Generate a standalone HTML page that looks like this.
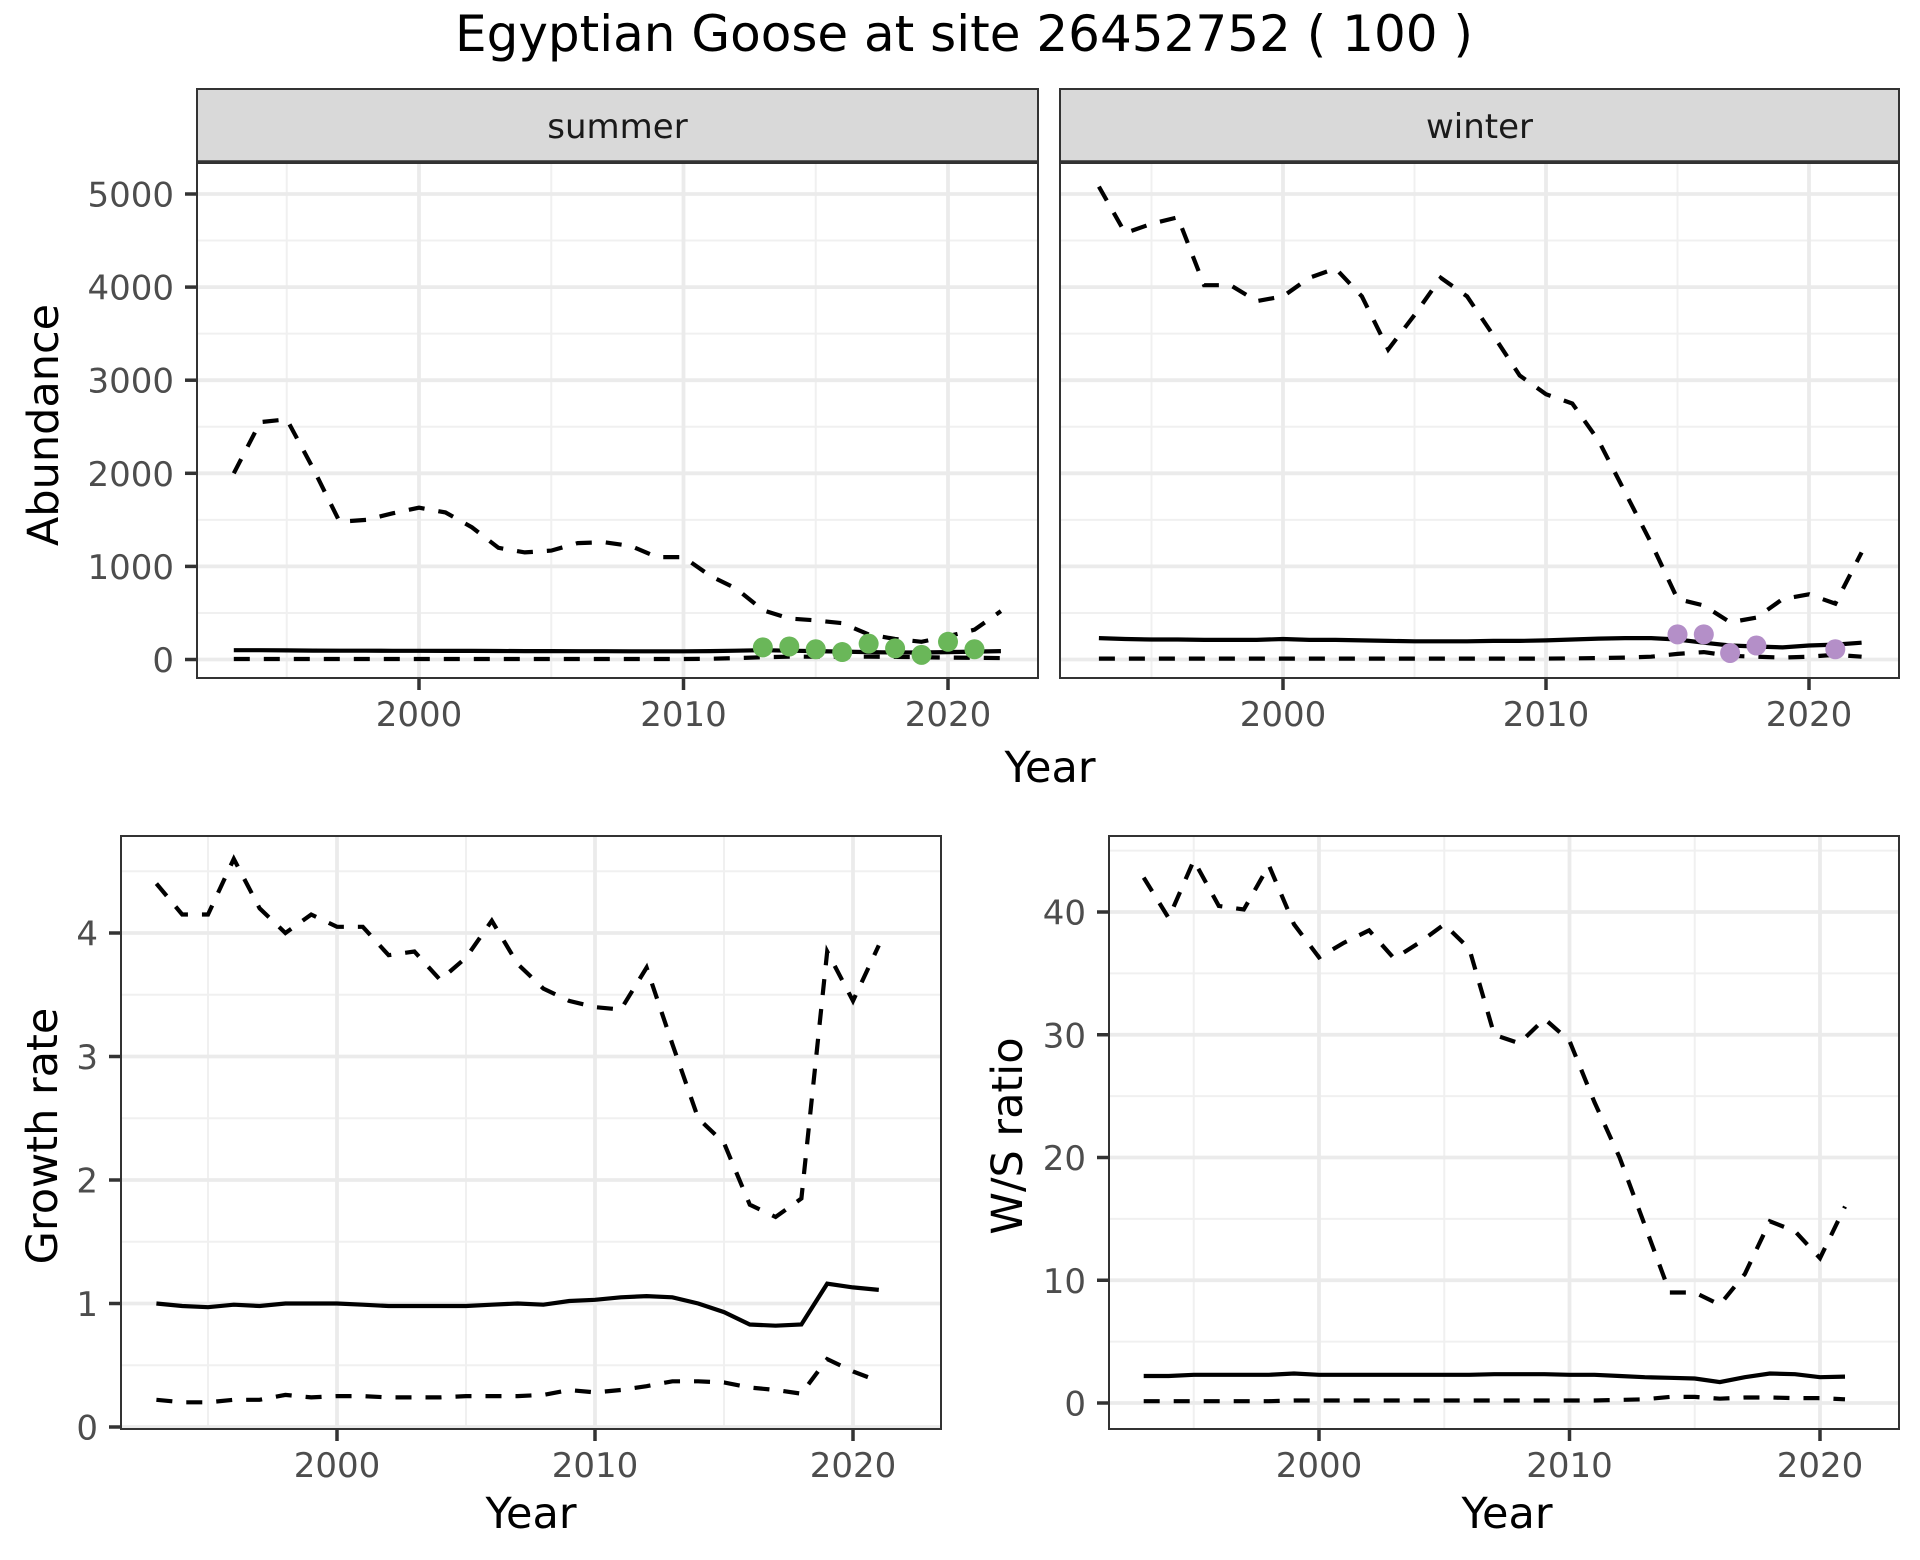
<!DOCTYPE html>
<html><head><meta charset="utf-8"><style>
html,body{margin:0;padding:0;background:#fff;}
svg{display:block;font-family:"DejaVu Sans","Liberation Sans",sans-serif;}
</style></head><body>
<svg id="chart" width="1920" height="1560" viewBox="0 0 1920 1560" xmlns="http://www.w3.org/2000/svg">
<rect width="1920" height="1560" fill="#fff"/>
<text x="964" y="51" font-size="50" text-anchor="middle" fill="#000">Egyptian Goose at site 26452752 ( 100 )</text>
</svg>
<script>
const yearsTop = [1993,1994,1995,1996,1997,1998,1999,2000,2001,2002,2003,2004,2005,2006,2007,2008,2009,2010,2011,2012,2013,2014,2015,2016,2017,2018,2019,2020,2021,2022];
const summerUpper = [2000,2550,2580,2050,1480,1500,1570,1630,1580,1420,1200,1150,1170,1250,1260,1220,1100,1100,900,760,530,440,420,390,270,220,190,250,320,520];
const summerMean = [100,100,98,96,95,94,93,93,92,92,91,90,90,89,89,88,88,88,90,95,100,95,90,85,80,75,75,80,85,90];
const summerLower = [5,5,5,5,5,5,5,5,5,5,5,5,5,5,5,5,5,5,8,15,25,30,30,30,30,28,25,20,18,15];
const summerPtYears = [2013,2014,2015,2016,2017,2018,2019,2020,2021];
const summerPts = [130,140,110,80,170,120,50,190,110];
const winterUpper = [5080,4580,4680,4750,4020,4020,3850,3900,4100,4200,3900,3330,3700,4100,3900,3480,3050,2850,2750,2350,1800,1250,650,580,400,450,650,700,600,1150];
const winterMean = [230,220,215,215,210,210,210,220,210,210,205,200,195,195,195,200,200,205,215,225,230,230,215,180,150,140,130,150,160,180];
const winterLower = [10,10,10,10,10,10,10,10,10,10,10,10,10,10,10,10,10,10,12,15,20,30,60,80,40,30,20,30,50,30];
const winterPtYears = [2015,2016,2017,2018,2021];
const winterPts = [270,270,70,150,110];
const yearsBot = [1993,1994,1995,1996,1997,1998,1999,2000,2001,2002,2003,2004,2005,2006,2007,2008,2009,2010,2011,2012,2013,2014,2015,2016,2017,2018,2019,2020,2021];
const growthUpper = [4.4,4.15,4.15,4.6,4.2,4.0,4.15,4.05,4.05,3.82,3.85,3.62,3.8,4.1,3.75,3.55,3.45,3.4,3.38,3.72,3.1,2.5,2.3,1.8,1.7,1.85,3.85,3.45,3.9];
const growthMean = [1.0,0.98,0.97,0.99,0.98,1.0,1.0,1.0,0.99,0.98,0.98,0.98,0.98,0.99,1.0,0.99,1.02,1.03,1.05,1.06,1.05,1.0,0.93,0.83,0.82,0.83,1.16,1.13,1.11];
const growthLower = [0.22,0.2,0.2,0.22,0.22,0.26,0.24,0.25,0.25,0.24,0.24,0.24,0.25,0.25,0.25,0.26,0.3,0.28,0.3,0.33,0.37,0.37,0.36,0.32,0.3,0.27,0.55,0.45,0.37];
const wsUpper = [42.8,39.5,44.2,40.5,40.2,43.8,39,36.3,37.5,38.5,36.2,37.5,39,37,30,29.3,31.3,29.5,24.5,20,14.5,9,9,8,10.5,14.8,14,11.8,16];
const wsMean = [2.2,2.2,2.3,2.3,2.3,2.3,2.4,2.3,2.3,2.3,2.3,2.3,2.3,2.3,2.35,2.35,2.35,2.3,2.3,2.2,2.1,2.05,2.0,1.7,2.1,2.4,2.35,2.1,2.15];
const wsLower = [0.15,0.15,0.15,0.15,0.15,0.15,0.2,0.2,0.2,0.2,0.2,0.2,0.2,0.2,0.2,0.2,0.2,0.2,0.2,0.25,0.3,0.5,0.5,0.35,0.45,0.45,0.4,0.4,0.3];
const xTicks = [2000,2010,2020];
const abundTicks = [0,1000,2000,3000,4000,5000];
const growthTicks = [0,1,2,3,4];
const wsTicks = [0,10,20,30,40];

const svg = document.getElementById('chart');
const NS = 'http://www.w3.org/2000/svg';
function mk(tag, attrs, parent){
  const e = document.createElementNS(NS, tag);
  for (const k in attrs) e.setAttribute(k, attrs[k]);
  (parent||svg).appendChild(e);
  return e;
}
function lin(d0,d1,r0,r1){ return v => r0 + (v-d0)*(r1-r0)/(d1-d0); }

function panel(o){
  const g = mk('g', {});
  
  
  mk('rect', {x:o.x0,y:o.y0,width:o.x1-o.x0,height:o.y1-o.y0,fill:'#fff'}, g);
  o.xMinor.forEach(v=>{ const X=o.sx(v); mk('line',{x1:X,x2:X,y1:o.y0,y2:o.y1,stroke:'#f0f0f0','stroke-width':2},g); });
  o.yMinor.forEach(v=>{ const Y=o.sy(v); if (Y>o.y0) mk('line',{x1:o.x0,x2:o.x1,y1:Y,y2:Y,stroke:'#f0f0f0','stroke-width':2},g); });
  xTicks.forEach(v=>{ const X=o.sx(v); mk('line',{x1:X,x2:X,y1:o.y0,y2:o.y1,stroke:'#ebebeb','stroke-width':3.8},g); });
  o.yTicks.forEach(v=>{ const Y=o.sy(v); mk('line',{x1:o.x0,x2:o.x1,y1:Y,y2:Y,stroke:'#ebebeb','stroke-width':3.8},g); });
  const path = (xs, ys) => xs.map((x,i)=>(i?'L':'M')+o.sx(x).toFixed(1)+','+o.sy(ys[i]).toFixed(1)).join(' ');
  const up = mk('path',{d:path(o.years,o.upper),fill:'none',stroke:'#000','stroke-width':4.2,'stroke-dasharray':'16 14'},g);
  
  
  const lo = mk('path',{d:path(o.years,o.lower),fill:'none',stroke:'#000','stroke-width':4.2,'stroke-dasharray':'16 14'},g);
  
  
  const me = mk('path',{d:path(o.years,o.mean),fill:'none',stroke:'#000','stroke-width':4.2},g);
  
  
  if (o.ptYears){
    o.ptYears.forEach((yr,i)=>{
      const c = mk('circle',{cx:o.sx(yr),cy:o.sy(o.pts[i]),r:10,fill:o.ptColor},g);
      
      
    });
  }
  mk('rect',{x:o.x0,y:o.y0,width:o.x1-o.x0,height:o.y1-o.y0,fill:'none',stroke:'#333','stroke-width':2},g);
  xTicks.forEach(v=>{
    const X=o.sx(v);
    mk('line',{x1:X,x2:X,y1:o.y1,y2:o.y1+12,stroke:'#333','stroke-width':3.5},g);
    const t = mk('text',{x:X,y:o.y1+48,'font-size':34,'text-anchor':'middle',fill:'#4d4d4d'},g);
    t.textContent = v;
    
    
  });
  if (o.showY){
    o.yTicks.forEach(v=>{
      const Y=o.sy(v);
      mk('line',{x1:o.x0-12,x2:o.x0,y1:Y,y2:Y,stroke:'#333','stroke-width':3.5},g);
      const t = mk('text',{x:o.x0-23,y:Y+12.5,'font-size':34,'text-anchor':'end',fill:'#4d4d4d'},g);
      t.textContent = v;
      
      
    });
  }
}

const syTop = lin(0,5000,659.5,194);
panel({name:'summer-panel',x0:197,x1:1038,y0:163,y1:678,sx:lin(2000,2020,419,948),sy:syTop,
  xMinor:[1995,2005,2015],yMinor:[500,1500,2500,3500,4500],yTicks:abundTicks,showY:true,
  years:yearsTop,upper:summerUpper,mean:summerMean,lower:summerLower,ptYears:summerPtYears,pts:summerPts,ptColor:'#6ab759'});
panel({name:'winter-panel',x0:1060,x1:1899,y0:163,y1:678,sx:lin(2000,2020,1283,1809),sy:syTop,
  xMinor:[1995,2005,2015],yMinor:[500,1500,2500,3500,4500],yTicks:abundTicks,showY:false,
  years:yearsTop,upper:winterUpper,mean:winterMean,lower:winterLower,ptYears:winterPtYears,pts:winterPts,ptColor:'#b48fc8'});
[['summer-strip',197,1038,'summer'],['winter-strip',1060,1899,'winter']].forEach(s=>{
  const r = mk('rect',{x:s[1],y:89,width:s[2]-s[1],height:73,fill:'#d9d9d9',stroke:'#333','stroke-width':2});
  
  
  mk('line',{x1:s[1],x2:s[2],y1:162,y2:162,stroke:'#333','stroke-width':3.5});
  const t = mk('text',{x:(s[1]+s[2])/2,y:138,'font-size':34,'text-anchor':'middle',fill:'#1a1a1a'});
  t.textContent = s[3];
  
  
});
panel({name:'growth-panel',x0:121,x1:941,y0:836,y1:1429,sx:lin(2000,2020,337,853),sy:lin(0,4,1427,933),
  xMinor:[1995,2005,2015],yMinor:[0.5,1.5,2.5,3.5,4.5],yTicks:growthTicks,showY:true,
  years:yearsBot,upper:growthUpper,mean:growthMean,lower:growthLower});
panel({name:'ws-ratio-panel',x0:1109,x1:1899,y0:836,y1:1429,sx:lin(2000,2020,1319,1820),sy:lin(0,40,1403,912),
  xMinor:[1995,2005,2015],yMinor:[5,15,25,35,45],yTicks:wsTicks,showY:true,
  years:yearsBot,upper:wsUpper,mean:wsMean,lower:wsLower});

function title(txt,x,y,rot,name){
  const t = mk('text',{x:x,y:y,'font-size':43,'text-anchor':'middle',fill:'#000'});
  if (rot) t.setAttribute('transform','rotate(-90 '+x+' '+y+')');
  t.textContent = txt;
  
  
}
title('Year',1050,782,false,'top-x-axis-title');
title('Abundance',58,425,true,'abundance-y-axis-title');
title('Year',531,1528,false,'growth-x-axis-title');
title('Growth rate',57,1136,true,'growth-y-axis-title');
title('Year',1507,1528,false,'ws-x-axis-title');
title('W/S ratio',1022,1136,true,'ws-y-axis-title');
</script>
</body></html>
